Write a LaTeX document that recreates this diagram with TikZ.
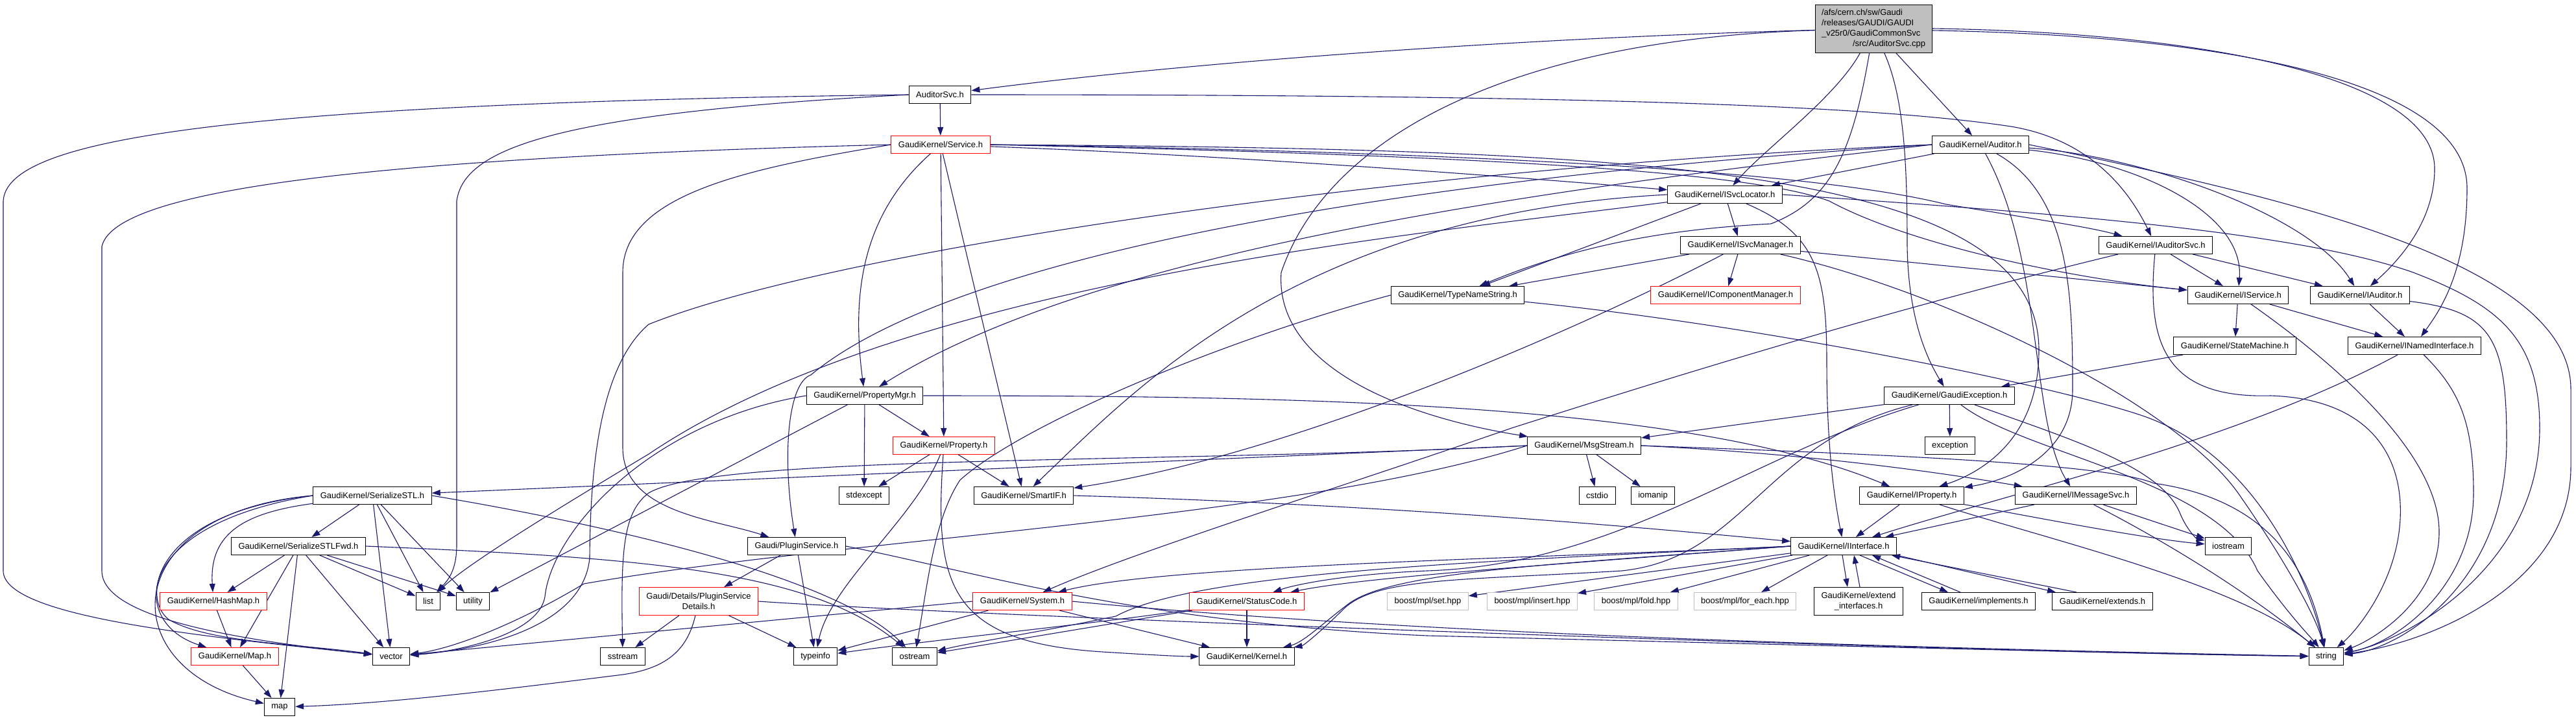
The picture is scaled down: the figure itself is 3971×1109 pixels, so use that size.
\documentclass[tikz,border=0pt]{standalone}
\usepackage{fontspec}
\setmainfont{Liberation Sans}
\usetikzlibrary{arrows.meta}
\definecolor{edgec}{HTML}{191970}
\definecolor{grayfill}{HTML}{BFBFBF}
\pgfdeclarelayer{bg}
\pgfsetlayers{bg,main}
\begin{document}
\begin{tikzpicture}[x=1pt,y=-1pt,
  nb/.style={draw=black, fill=white, line width=1pt, inner xsep=11pt, inner ysep=0pt, minimum height=27pt, font=\fontsize{13}{16}\selectfont},
  nr/.style={nb, draw=red},
  ng/.style={nb, draw=grayfill},
  ed/.style={draw=edgec, line width=1.1pt, -{Triangle[length=13pt,width=9pt]}}]
\useasboundingbox (0,0) rectangle (3971,1109);
% nodes
\node[nb, fill=grayfill, align=left, text width=160pt, inner xsep=10pt, inner ysep=4pt, minimum height=74pt] (main) at (2888,44)
  {/afs/cern.ch/sw/Gaudi\\/releases/GAUDI/GAUDI\\\_v25r0/GaudiCommonSvc\\\hspace*{\fill}/src/AuditorSvc.cpp\hspace*{\fill}};
\node[nb] (auditorsvc) at (1449,146) {AuditorSvc.h};
\node[nr] (service) at (1450,223) {GaudiKernel/Service.h};
\node[nb] (auditor) at (3053,223) {GaudiKernel/Auditor.h};
\node[nb] (isvcloc) at (2659,300) {GaudiKernel/ISvcLocator.h};
\node[nb] (isvcman) at (2683,378) {GaudiKernel/ISvcManager.h};
\node[nb] (iauditorsvc) at (3323,378) {GaudiKernel/IAuditorSvc.h};
\node[nb] (typename) at (2247,455) {GaudiKernel/TypeNameString.h};
\node[nr] (icompman) at (2660,455) {GaudiKernel/IComponentManager.h};
\node[nb] (iservice) at (3450,455) {GaudiKernel/IService.h};
\node[nb] (iauditor) at (3638,455) {GaudiKernel/IAuditor.h};
\node[nb] (statemach) at (3445,533) {GaudiKernel/StateMachine.h};
\node[nb] (inamed) at (3722,533) {GaudiKernel/INamedInterface.h};
\node[nb] (propmgr) at (1333,610) {GaudiKernel/PropertyMgr.h};
\node[nb] (gexc) at (3005,610) {GaudiKernel/GaudiException.h};
\node[nr] (property) at (1455,687) {GaudiKernel/Property.h};
\node[nb] (msgstream) at (2442,687) {GaudiKernel/MsgStream.h};
\node[nb] (exception) at (3006,687) {exception};
\node[nb] (sstl) at (574,764) {GaudiKernel/SerializeSTL.h};
\node[nb] (stdexcept) at (1332,764) {stdexcept};
\node[nb] (smartif) at (1578,764) {GaudiKernel/SmartIF.h};
\node[nb] (cstdio) at (2462,764) {cstdio};
\node[nb] (iomanip) at (2548,764) {iomanip};
\node[nb] (iproperty) at (2947,764) {GaudiKernel/IProperty.h};
\node[nb] (imsgsvc) at (3200,764) {GaudiKernel/IMessageSvc.h};
\node[nb] (sstlfwd) at (460,842) {GaudiKernel/SerializeSTLFwd.h};
\node[nb] (plugin) at (1228,842) {Gaudi/PluginService.h};
\node[nb] (iinterface) at (2842,842) {GaudiKernel/IInterface.h};
\node[nb] (iostream) at (3435,842) {iostream};
\node[nr] (hashmap) at (329,927) {GaudiKernel/HashMap.h};
\node[nb] (list) at (660,927) {list};
\node[nb] (utility) at (729,927) {utility};
\node[nr, align=center, minimum height=43pt] (psdet) at (1077,927) {Gaudi/Details/PluginService\\Details.h};
\node[nr] (system) at (1576,927) {GaudiKernel/System.h};
\node[nr] (statuscode) at (1922,927) {GaudiKernel/StatusCode.h};
\node[ng] (bset) at (2201,927) {boost/mpl/set.hpp};
\node[ng] (binsert) at (2362,927) {boost/mpl/insert.hpp};
\node[ng] (bfold) at (2522,927) {boost/mpl/fold.hpp};
\node[ng] (bforeach) at (2690,927) {boost/mpl/for\_each.hpp};
\node[nb, align=center, minimum height=43pt] (extendif) at (2865,927) {GaudiKernel/extend\\\_interfaces.h};
\node[nb] (implements) at (3050,927) {GaudiKernel/implements.h};
\node[nb] (extends) at (3241,927) {GaudiKernel/extends.h};
\node[nr] (map1) at (362,1012) {GaudiKernel/Map.h};
\node[nb] (vector) at (603,1012) {vector};
\node[nb] (sstream) at (960,1012) {sstream};
\node[nb] (typeinfo) at (1257,1012) {typeinfo};
\node[nb] (ostream) at (1410,1012) {ostream};
\node[nb] (kernel) at (1922,1012) {GaudiKernel/Kernel.h};
\node[nb] (string) at (3586,1012) {string};
\node[nb] (map) at (431,1090) {map};

\begin{pgfonlayer}{bg}
\fill[white] (0,0) rectangle (3971,1109);
% main
\draw[ed] (main) .. controls (2300,60) and (1800,100) .. (auditorsvc);
\draw[ed] (main) .. controls (2830,150) and (2720,230) .. (isvcloc);
\draw[ed] (main) .. controls (2855,240) and (2820,310) .. (2730,345) .. controls (2600,352) and (2450,370) .. (typename);
\draw[ed] (main) .. controls (2350,60) and (2050,200) .. (1975,420) .. controls (1965,560) and (2150,640) .. (msgstream);
\draw[ed] (main) .. controls (2935,150) and (2940,250) .. (2940,380) .. controls (2942,500) and (2975,560) .. (gexc);
\draw[ed] (main) -- (auditor);
\draw[ed] (main.east) .. controls (3400,50) and (3753,120) .. (3753,260) .. controls (3753,340) and (3700,400) .. (iauditor);
\draw[ed] ([yshift=-3pt]main.east) .. controls (3450,55) and (3803,130) .. (3803,290) .. controls (3803,420) and (3760,480) .. (inamed);
% AuditorSvc
\draw[ed] (auditorsvc) -- (service);
\draw[ed] (auditorsvc.east) .. controls (2500,146) and (2900,165) .. (3100,195) .. controls (3220,215) and (3280,290) .. (iauditorsvc);
\draw[ed] (auditorsvc.west) .. controls (850,175) and (715,230) .. (704,310) -- (704,840) .. controls (704,880) and (690,895) .. (list);
\draw[ed] (auditorsvc.west) .. controls (300,160) and (10,220) .. (5,310) -- (5,880) .. controls (5,950) and (300,980) .. (vector);
% Service
\draw[ed] (service.west) .. controls (500,245) and (175,300) .. (157,380) -- (157,880) .. controls (157,950) and (350,985) .. (vector);
\draw[ed] (service) .. controls (1900,240) and (2300,270) .. (isvcloc);
\draw[ed] (service.east) .. controls (2300,240) and (2700,265) .. (2820,310) .. controls (2950,380) and (3200,430) .. (iservice);
\draw[ed] (service.east) .. controls (2300,235) and (2800,265) .. (3000,315) .. controls (3150,340) and (3220,350) .. (iauditorsvc);
\draw[ed] (service.east) .. controls (2500,230) and (3143,250) .. (3143,540) .. controls (3143,680) and (3050,730) .. (iproperty);
\draw[ed] (service) .. controls (1330,330) and (1312,450) .. (propmgr);
\draw[ed] (service) -- (property);
\draw[ed] (service) -- (smartif);
\draw[ed] (service.west) .. controls (1150,260) and (960,300) .. (960,420) -- (960,690) .. controls (960,790) and (1100,800) .. (plugin);
% Auditor
\draw[ed] (auditor) -- (isvcloc);
\draw[ed] (auditor) .. controls (3300,250) and (3460,330) .. (iservice);
\draw[ed] (auditor) .. controls (3300,240) and (3560,330) .. (iauditor);
\draw[ed] (auditor) .. controls (3190,300) and (3195,450) .. (3195,600) .. controls (3195,700) and (3100,740) .. (iproperty);
\draw[ed] (auditor.west) .. controls (2400,290) and (1700,380) .. (propmgr);
\draw[ed] (auditor) .. controls (3150,400) and (3130,650) .. (imsgsvc);
\draw[ed] (auditor.east) .. controls (3500,300) and (3963,400) .. (3963,600) -- (3963,720) .. controls (3963,900) and (3750,990) .. (string);
\draw[ed] (auditor.west) .. controls (2200,255) and (1300,380) .. (1000,500) .. controls (930,560) and (910,700) .. (909,860) .. controls (900,960) and (760,1000) .. (vector);
\draw[ed] (auditor.west) .. controls (2300,265) and (1500,370) .. (1250,578) .. controls (1215,590) and (1205,700) .. (plugin);
% ISvcLocator
\draw[ed] (isvcloc) -- (isvcman);
\draw[ed] (isvcloc) -- (typename);
\draw[ed] (isvcloc.west) .. controls (2000,330) and (1750,600) .. (smartif);
\draw[ed] (isvcloc) .. controls (2800,360) and (2816,420) .. (2816,560) .. controls (2816,700) and (2830,780) .. (iinterface);
\draw[ed] (isvcloc.east) .. controls (3200,330) and (3550,360) .. (3720,420) .. controls (3850,470) and (3915,520) .. (3915,660) .. controls (3915,880) and (3700,990) .. (string);
\draw[ed] (isvcloc) .. controls (2200,360) and (1400,430) .. (1000,700) .. controls (850,790) and (720,870) .. (list);
% ISvcManager
\draw[ed] (isvcman) -- (icompman);
\draw[ed] (isvcman) -- (typename);
\draw[ed] (isvcman) -- (iservice);
\draw[ed] (isvcman) .. controls (3000,450) and (3350,620) .. (3450,760) .. controls (3520,860) and (3570,950) .. (string);
\draw[ed] (isvcman) .. controls (2450,500) and (2000,700) .. (smartif);
% IAuditorSvc
\draw[ed] (iauditorsvc) -- (iservice);
\draw[ed] (iauditorsvc) -- (iauditor);
\draw[ed] (iauditorsvc) .. controls (2900,480) and (2550,590) .. (2330,660) .. controls (2100,740) and (1750,850) .. (system);
\draw[ed] (iauditorsvc) .. controls (3310,520) and (3330,615) .. (3500,610) .. controls (3650,615) and (3705,700) .. (3700,800) .. controls (3695,900) and (3630,975) .. (string);
% IService
\draw[ed] (iservice) -- (statemach);
\draw[ed] (iservice) -- (inamed);
\draw[ed] (iservice) .. controls (3600,560) and (3760,700) .. (3760,820) .. controls (3760,930) and (3650,990) .. (string);
% IAuditor
\draw[ed] (iauditor) -- (inamed);
\draw[ed] (iauditor) .. controls (3840,480) and (3864,520) .. (3864,680) .. controls (3864,900) and (3700,1000) .. (string);
% INamedInterface
\draw[ed] (inamed) .. controls (3450,680) and (3100,760) .. (iinterface);
\draw[ed] (inamed) .. controls (3790,600) and (3813,650) .. (3813,760) .. controls (3813,900) and (3700,990) .. (string);
% StateMachine
\draw[ed] (statemach) -- (gexc);
% GaudiException
\draw[ed] (gexc) -- (exception);
\draw[ed] (gexc) -- (msgstream);
\draw[ed] (gexc) .. controls (2700,700) and (2500,870) .. (2200,880) .. controls (2080,885) and (2000,900) .. (statuscode);
\draw[ed] (gexc) .. controls (2720,680) and (2690,860) .. (2500,880) .. controls (2250,895) and (2120,890) .. (2070,940) .. controls (2040,970) and (2010,995) .. (kernel);
\draw[ed] (gexc) .. controls (3120,700) and (3420,740) .. (3480,880) .. controls (3530,950) and (3560,980) .. (string);
\draw[ed] (gexc) .. controls (3200,680) and (3330,720) .. (3360,790) .. controls (3370,815) and (3385,830) .. (iostream);
% MsgStream
\draw[ed] (msgstream) -- (cstdio);
\draw[ed] (msgstream) -- (iomanip);
\draw[ed] (msgstream.east) .. controls (2800,700) and (3000,730) .. (imsgsvc);
\draw[ed] (msgstream.west) -- (sstl);
\draw[ed] (msgstream.west) .. controls (1800,715) and (1100,700) .. (1000,760) .. controls (960,790) and (957,850) .. (sstream);
\draw[ed] (msgstream.west) .. controls (2000,800) and (1300,830) .. (900,900) .. controls (800,960) and (700,1000) .. (vector);
\draw[ed] (msgstream.east) .. controls (2900,700) and (3250,715) .. (3320,745) .. controls (3500,770) and (3560,880) .. (string);
% TypeNameString
\draw[ed] (typename) .. controls (2700,500) and (3150,590) .. (3300,640) .. controls (3480,700) and (3560,900) .. (string);
\draw[ed] (typename.west) .. controls (1900,520) and (1580,650) .. (1480,740) .. controls (1440,800) and (1430,900) .. (ostream);
% PropertyMgr
\draw[ed] (propmgr) -- (property);
\draw[ed] (propmgr) -- (stdexcept);
\draw[ed] (propmgr.east) .. controls (2000,610) and (2600,620) .. (iproperty);
\draw[ed] (propmgr) -- (utility);
\draw[ed] (propmgr.west) .. controls (1000,650) and (850,820) .. (840,920) .. controls (830,980) and (700,1005) .. (vector);
% Property
\draw[ed] (property) -- (stdexcept);
\draw[ed] (property) .. controls (1410,800) and (1280,900) .. (typeinfo);
\draw[ed] (property) -- (smartif);
\draw[ed] (property) .. controls (1440,900) and (1460,990) .. (1700,1005) .. controls (1780,1010) and (1820,1012) .. (kernel);
% IProperty
\draw[ed] (iproperty) -- (iinterface);
\draw[ed] (iproperty) .. controls (3100,790) and (3300,830) .. (iostream);
\draw[ed] (iproperty) .. controls (3150,830) and (3450,900) .. (string);
% IMessageSvc
\draw[ed] (imsgsvc) -- (iinterface);
\draw[ed] (imsgsvc) -- (iostream);
\draw[ed] (imsgsvc) .. controls (3310,820) and (3450,900) .. (string);
% SmartIF
\draw[ed] (smartif.east) .. controls (2200,780) and (2600,820) .. (iinterface);
% SerializeSTL
\draw[ed] (sstl) -- (sstlfwd);
\draw[ed] (sstl) .. controls (380,790) and (322,820) .. (hashmap);
\draw[ed] (sstl.west) .. controls (200,810) and (200,960) .. (map1);
\draw[ed] (sstl.west) .. controls (180,790) and (170,1030) .. (map);
\draw[ed] (sstl.west) .. controls (240,790) and (215,920) .. (260,955) .. controls (320,990) and (450,992) .. (vector);
\draw[ed] (sstl) -- (list);
\draw[ed] (sstl) -- (utility);
\draw[ed] (sstl) -- (vector);
\draw[ed] (sstl.east) .. controls (1000,820) and (1300,900) .. (ostream);
% SerializeSTLFwd
\draw[ed] (sstlfwd) -- (hashmap);
\draw[ed] (sstlfwd) -- (map1);
\draw[ed] (sstlfwd) -- (map);
\draw[ed] (sstlfwd) -- (vector);
\draw[ed] (sstlfwd) -- (list);
\draw[ed] (sstlfwd) -- (utility);
\draw[ed] (sstlfwd.east) .. controls (1000,860) and (1250,880) .. (ostream);
% HashMap, Map
\draw[ed] (hashmap) -- (map1);
\draw[ed] (map1) -- (map);
% PluginService
\draw[ed] (plugin) -- (psdet);
\draw[ed] (plugin) -- (typeinfo);
\draw[ed] (plugin.east) .. controls (1500,880) and (1750,960) .. (2200,980) .. controls (2800,995) and (3300,1008) .. (string);
% PluginServiceDetails
\draw[ed] (psdet) -- (typeinfo);
\draw[ed] (psdet) .. controls (1060,1000) and (1030,1030) .. (960,1040) .. controls (800,1060) and (600,1085) .. (map);
\draw[ed] (psdet) -- (sstream);
\draw[ed] (psdet.east) .. controls (1500,950) and (3000,1005) .. (string);
% System
\draw[ed] (system) -- (typeinfo);
\draw[ed] (system) -- (kernel);
\draw[ed] (system.east) .. controls (2200,980) and (3000,1000) .. (string);
\draw[ed] (system.west) -- (vector);
% StatusCode
\draw[ed] (statuscode) -- (kernel);
\draw[ed] (statuscode) -- (ostream);
\draw[ed] (statuscode) .. controls (1700,960) and (1450,985) .. (typeinfo);
% IInterface
\draw[ed] (iinterface.west) .. controls (2400,860) and (1800,870) .. (system);
\draw[ed] (iinterface.west) .. controls (2400,870) and (2100,890) .. (statuscode);
\draw[ed] (iinterface.west) .. controls (2400,870) and (2150,880) .. (2080,930) .. controls (2040,960) and (2010,990) .. (kernel);
\draw[ed] (iinterface.west) .. controls (2300,865) and (1850,880) .. (1720,950) .. controls (1600,975) and (1500,990) .. (ostream);
\draw[ed] (iinterface) -- (bset);
\draw[ed] (iinterface) -- (binsert);
\draw[ed] (iinterface) -- (bfold);
\draw[ed] (iinterface) -- (bforeach);
\draw[ed] ([xshift=-2pt]iinterface.south) -- ([xshift=-17pt]extendif.north);
\draw[ed] ([xshift=2pt]extendif.north) -- ([xshift=16pt]iinterface.south);
\draw[ed] ([xshift=25pt]iinterface.south) -- ([xshift=-47pt]implements.north);
\draw[ed] ([xshift=-28pt]implements.north) -- ([xshift=44pt]iinterface.south);
\draw[ed] (iinterface.south east) -- ([xshift=-72pt]extends.north);
\draw[ed] ([xshift=-40pt]extends.north) -- ([xshift=-8pt]iinterface.south east);
\end{pgfonlayer}
\end{tikzpicture}
\end{document}
